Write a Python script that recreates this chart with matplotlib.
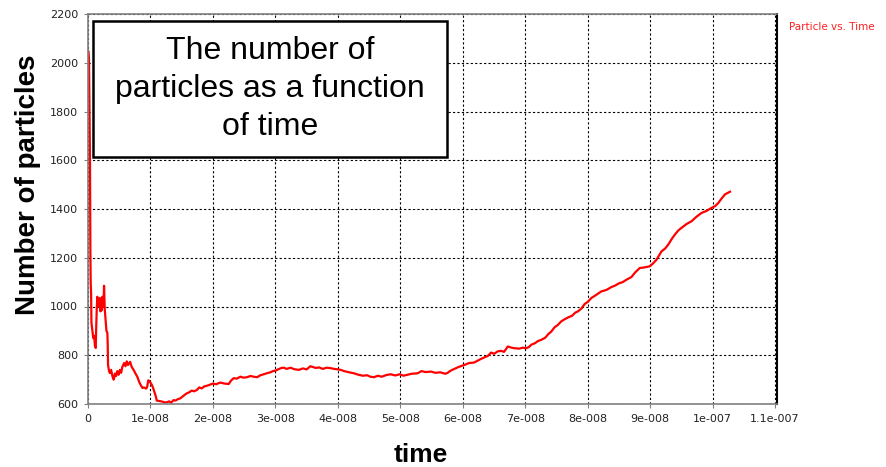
import numpy as np
import matplotlib
matplotlib.use("Agg")
import matplotlib.pyplot as plt
from matplotlib.patches import Rectangle

# time in units of 1e-8 s, and particle count at that time
t_e8 = [
    0.000, 0.008, 0.016, 0.024, 0.032, 0.038, 0.043, 0.050, 0.055, 0.070,
    0.085, 0.100, 0.110, 0.124, 0.130, 0.140, 0.149, 0.160, 0.170, 0.180,
    0.190, 0.200, 0.210, 0.220, 0.230, 0.240, 0.250, 0.257, 0.268, 0.280,
    0.295, 0.310, 0.315, 0.321, 0.337, 0.350, 0.370, 0.390, 0.410, 0.417,
    0.430, 0.450, 0.470, 0.490, 0.510, 0.530, 0.550, 0.578, 0.600, 0.620,
    0.640, 0.674, 0.700, 0.730, 0.760, 0.791, 0.820, 0.850, 0.872, 0.900,
    0.930, 0.947, 0.965, 0.979, 1.000, 1.027, 1.050, 1.087, 1.100, 1.150,
    1.200, 1.230, 1.263, 1.300, 1.330, 1.369, 1.400, 1.440, 1.477, 1.520,
    1.550, 1.584, 1.620, 1.660, 1.700, 1.745, 1.780, 1.820, 1.860, 1.905,
    1.950, 2.000, 2.050, 2.119, 2.180, 2.252, 2.290, 2.332, 2.380, 2.440,
    2.490, 2.547, 2.600, 2.650, 2.708, 2.760, 2.814, 2.860, 2.920, 2.960,
    3.002, 3.050, 3.100, 3.135, 3.180, 3.242, 3.300, 3.376, 3.440, 3.500,
    3.560, 3.644, 3.700, 3.760, 3.820, 3.884, 3.940, 4.000, 4.045, 4.100,
    4.180, 4.258, 4.330, 4.400, 4.470, 4.520, 4.579, 4.640, 4.700, 4.780,
    4.847, 4.920, 4.990, 5.050, 5.116, 5.180, 5.276, 5.340, 5.400, 5.490,
    5.560, 5.640, 5.720, 5.758, 5.800, 5.864, 5.944, 6.024, 6.100, 6.180,
    6.240, 6.292, 6.360, 6.400, 6.453, 6.500, 6.560, 6.613, 6.660, 6.721,
    6.780, 6.827, 6.900, 6.960, 7.014, 7.060, 7.095, 7.160, 7.200, 7.255,
    7.320, 7.370, 7.416, 7.470, 7.520, 7.576, 7.620, 7.684, 7.750, 7.800,
    7.844, 7.900, 7.950, 8.005, 8.058, 8.120, 8.218, 8.300, 8.380, 8.432,
    8.500, 8.560, 8.620, 8.700, 8.760, 8.833, 8.900, 8.994, 9.050, 9.101,
    9.181, 9.240, 9.289, 9.340, 9.395, 9.450, 9.502, 9.580, 9.663, 9.740,
    9.823, 9.900, 9.984, 10.040, 10.091, 10.140, 10.197, 10.278,
]
particles = [
    2050, 2045, 2015, 1810, 1600, 1233, 1100, 1050, 933, 900,
    870, 880, 840, 830, 900, 990, 1040, 1010, 1030, 1000,
    1035, 980, 1025, 985, 1040, 1000, 1020, 1085, 990, 950,
    900, 892, 850, 760, 735, 727, 740, 715, 700, 705,
    725, 715, 735, 720, 740, 728, 752, 768, 755, 775,
    760, 773, 752, 740, 725, 711, 690, 675, 666, 668,
    663, 670, 697, 695, 688, 676, 660, 630, 614, 612,
    609, 606, 607, 611, 605, 616, 614, 620, 623, 632,
    638, 644, 648, 655, 652, 658, 668, 664, 672, 675,
    679, 684, 681, 688, 684, 682, 696, 706, 704, 712,
    708, 710, 715, 712, 710, 718, 722, 726, 730, 735,
    737, 743, 748, 749, 744, 749, 743, 740, 746, 742,
    755, 748, 750, 744, 749, 747, 744, 742, 740, 735,
    730, 726, 720, 716, 718, 712, 710, 716, 712, 719,
    722, 717, 722, 716, 720, 724, 726, 735, 731, 733,
    728, 730, 724, 728, 736, 744, 753, 760, 768, 770,
    778, 785, 793, 797, 811, 806, 816, 818, 814, 836,
    831, 829, 827, 831, 829, 834, 843, 850, 858, 863,
    872, 887, 897, 915, 924, 939, 946, 955, 962, 975,
    980, 992, 1010, 1020, 1035, 1045, 1062, 1068, 1080, 1085,
    1095, 1100, 1110, 1121, 1140, 1158, 1160, 1165, 1178, 1192,
    1226, 1238, 1254, 1275, 1295, 1312, 1323, 1338, 1350, 1368,
    1384, 1392, 1405, 1412, 1425, 1442, 1460, 1471,
]

x_ticks_e8 = list(range(12))
x_tick_labels = ["0", "1e-008", "2e-008", "3e-008", "4e-008", "5e-008",
                 "6e-008", "7e-008", "8e-008", "9e-008", "1e-007", "1.1e-007"]
y_ticks = list(range(600, 2201, 200))

time = np.array(t_e8) * 1e-8

fig = plt.figure(figsize=(8.86, 4.67), dpi=100)
ax = fig.add_axes([88 / 886, 1 - 404 / 467, (777 - 88) / 886, (404 - 14) / 467])

ax.plot(time, particles, color="#ff0000", lw=1.6)

ax.set_xlim(0, 1.103e-7)
ax.set_ylim(600, 2200)
ax.set_xticks(np.array(x_ticks_e8) * 1e-8)
ax.set_xticklabels(x_tick_labels)
ax.set_yticks(y_ticks)
ax.tick_params(labelsize=8, length=3, width=0.8, color="#808080",
               labelcolor="#222222", pad=4)

ax.grid(True, color="black", linestyle=(0, (2, 2)), linewidth=0.8)
for side in ["left", "bottom", "top"]:
    ax.spines[side].set_color("#808080")
    ax.spines[side].set_linewidth(1.2)
ax.spines["right"].set_color("black")
ax.spines["right"].set_linewidth(1.5)

# axis titles
fig.text(28 / 886, 1 - 185 / 467, "Number of particles", rotation=90,
         ha="center", va="center", fontsize=20, fontweight="bold",
         family="Liberation Sans")
fig.text(421 / 886, 1 - 455 / 467, "time", ha="center", va="center",
         fontsize=19, fontweight="bold", family="Liberation Sans")

# series name
fig.text(789 / 886, 1 - 27 / 467, "Particle vs. Time", ha="left",
         va="center", fontsize=7.5, color="#ff2020")

# boxed caption
fig.patches.append(Rectangle((93 / 886, 1 - 157 / 467), 354 / 886, 136 / 467,
                             transform=fig.transFigure, facecolor="white",
                             edgecolor="black", linewidth=1.8, zorder=5))
fig.text(270 / 886, 1 - 89 / 467,
         "The number of\nparticles as a function\nof time",
         ha="center", va="center", fontsize=23, family="Liberation Sans",
         linespacing=1.33, zorder=6)

fig.savefig("out.png", dpi=100)
